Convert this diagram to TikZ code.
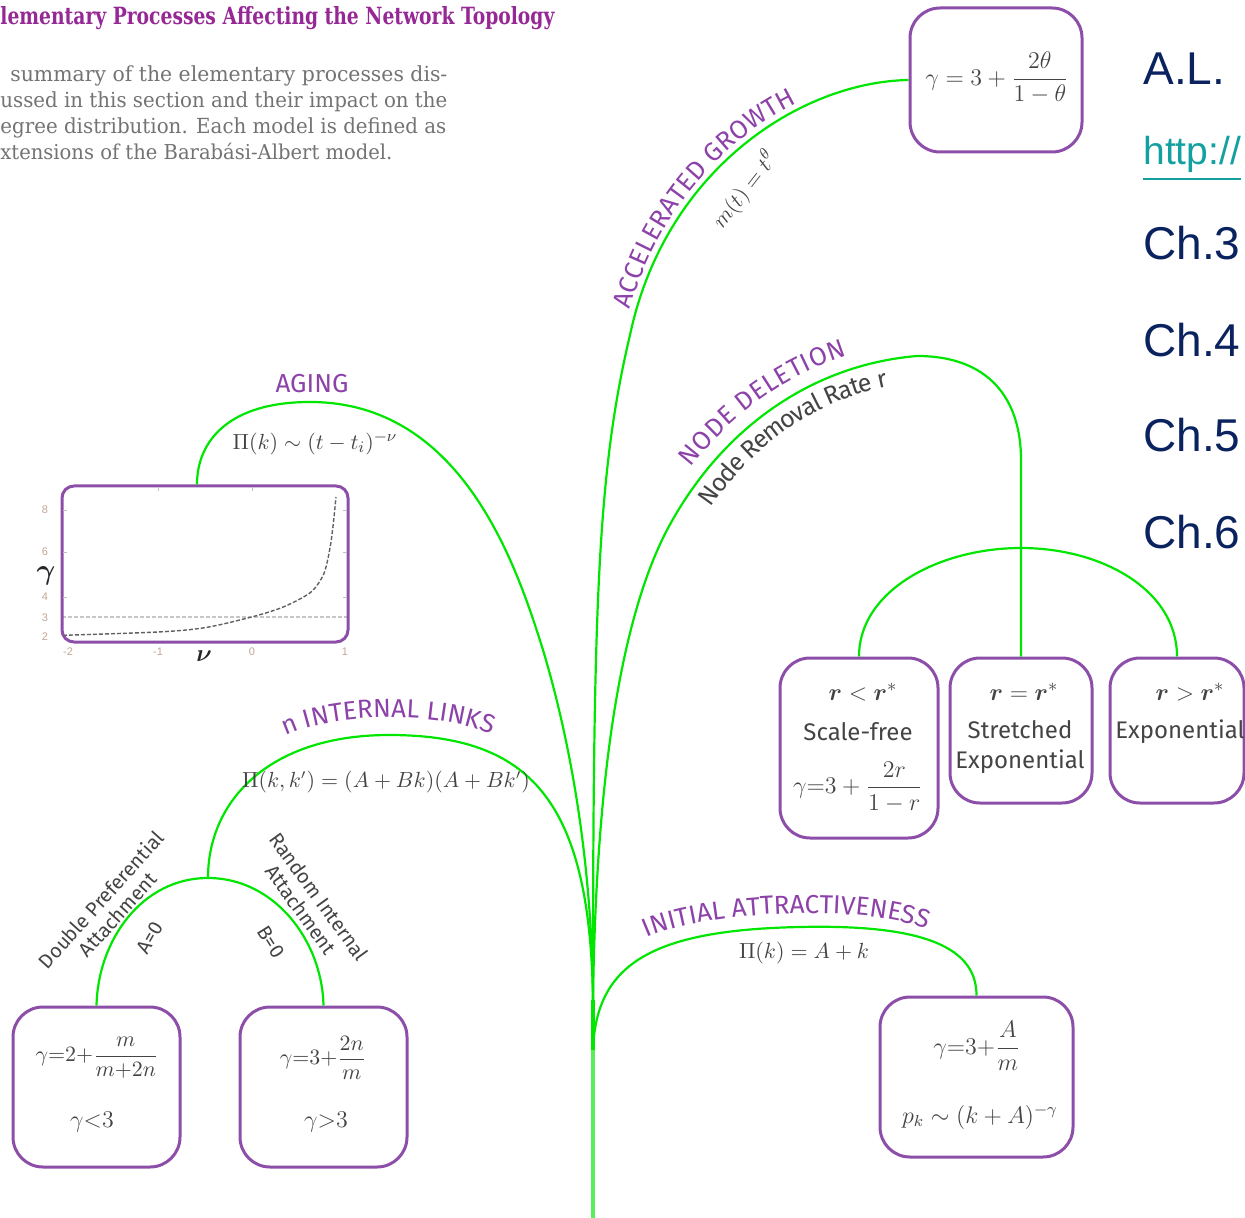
\documentclass[tikz,border=0pt]{standalone}
\usepackage{fontspec}
\usepackage{amsmath}
\usepackage{graphicx}
\usetikzlibrary{decorations.text,calc}
\newfontfamily\firafam{Fira Sans}
\newfontfamily\serifam{DejaVu Serif}
\newfontfamily\arialfam{Liberation Sans}
\definecolor{grn}{RGB}{0,230,0}
\definecolor{grnlight}{RGB}{90,238,90}
\definecolor{boxpurple}{RGB}{140,78,168}
\definecolor{lblpurple}{RGB}{140,66,168}
\definecolor{titlepurple}{RGB}{150,40,150}
\definecolor{descgray}{RGB}{115,115,115}
\definecolor{fgray}{RGB}{68,68,68}
\definecolor{navy}{RGB}{10,35,95}
\definecolor{linkteal}{RGB}{20,160,160}
\definecolor{tickcol}{RGB}{195,165,150}
\newcommand\capfont{\firafam\fontsize{13}{13}\selectfont}
\newcommand\subfont{\firafam\fontsize{12.5}{12.5}\selectfont}
\tikzset{
  branch/.style={draw=grn, line width=1.1pt},
  trunkline/.style={draw=grn, line width=2pt},
  procbox/.style={draw=boxpurple, line width=1.5pt, rounded corners=15pt, inner sep=0pt},
  formula/.style={text=fgray, inner sep=0pt, font=\fontsize{12}{14}\selectfont},
  sublabel/.style={text=fgray, inner sep=0pt, align=center, font=\firafam\fontsize{10}{11}\selectfont},
  boxtext/.style={text=fgray, inner sep=0pt, align=center, font=\firafam\fontsize{12}{15}\selectfont},
  caplabel/.style={text=lblpurple, inner sep=0pt, font=\capfont},
  ticklbl/.style={text=tickcol, inner sep=0pt, font=\arialfam\fontsize{5.5}{6}\selectfont},
  desc/.style={text=descgray, anchor=base west, inner sep=0pt},
  rightlbl/.style={text=navy, anchor=base west, inner sep=0pt, font=\arialfam\fontsize{23}{25}\selectfont},
  curvedlbl/.style={decorate, decoration={text along path, text color=lblpurple, #1}},
}
\begin{document}
\begin{tikzpicture}[x=0.5pt,y=-0.5pt]
\useasboundingbox (0,0) rectangle (1245,1218);

% ---------- header text ----------
\node[anchor=base west, inner sep=0pt, text=titlepurple] (title) at (0,25)
  {\resizebox{277pt}{9pt}{\serifam\bfseries lementary Processes Affecting the Network Topology}};
\node[desc] (d1) at (10,82) {\resizebox{218.5pt}{7.9pt}{\serifam summary of the elementary processes dis-}};
\node[desc] (d2) at (0,108) {\resizebox{223.5pt}{7.9pt}{\serifam ussed in this section and their impact on the}};
\node[desc] (d3) at (0,134) {\resizebox{223pt}{7.9pt}{\serifam egree distribution. Each model is defined as}};
\node[desc] (d4) at (0,160) {\resizebox{196pt}{8.2pt}{\serifam xtensions of the Barabási-Albert model.}};

% ---------- right side text ----------
\node[rightlbl] (al) at (1143,85) {A.L.};
\node[rightlbl, text=linkteal, font=\arialfam\fontsize{19.5}{21}\selectfont] (url) at (1143,165) {\underline{http://}};
\node[rightlbl] (ch3) at (1143,260) {Ch.3};
\node[rightlbl] (ch4) at (1143,357) {Ch.4};
\node[rightlbl] (ch5) at (1143,452) {Ch.5};
\node[rightlbl] (ch6) at (1143,548) {Ch.6};

% ---------- coordinates ----------
\coordinate (base) at (593,1218);
\coordinate (iaroot) at (593,1050);
\coordinate (root) at (593,1000);
\coordinate (ilsplit) at (208,878);
\coordinate (ndturn) at (1021,460);
\coordinate (ndsplit) at (1021,548);

% ---------- boxes ----------
\node[procbox, minimum width=86pt, minimum height=72pt] (bTheta) at (996,80) {};
\node[procbox, minimum width=79pt, minimum height=90pt] (bRless) at (859,748) {};
\node[procbox, minimum width=71pt, minimum height=72.5pt] (bReq) at (1021,730.5) {};
\node[procbox, minimum width=67pt, minimum height=72.5pt] (bRgt) at (1177,730.5) {};
\node[procbox, minimum width=96.5pt, minimum height=80pt] (bInit) at (976.5,1077) {};
\node[procbox, minimum width=83.5pt, minimum height=80pt] (bDPA) at (96.5,1087) {};
\node[procbox, minimum width=83.5pt, minimum height=80pt] (bRIA) at (323.5,1087) {};

% ---------- aging plot ----------
\draw[gray!45, dash pattern=on 2pt off 1pt, line width=0.6pt] (62,617) -- (348,617);
\draw[gray!75!black, dash pattern=on 2pt off 1pt, line width=0.7pt] plot[smooth] coordinates
  {(63,635.3) (159.7,631.9) (205.9,627.5) (252,616.9) (279.7,608.4) (298.2,599.9) (312.9,590.4) (324,573.4) (330,548) (333.2,524.6) (336,497)};
\node[procbox, rounded corners=6pt, minimum width=143pt, minimum height=78pt] (plot) at (205,564) {};
\foreach \yy in {510,552,597} {\draw[gray!50, line width=0.4pt] (63,\yy) -- (67,\yy); \draw[gray!50, line width=0.4pt] (347,\yy) -- (343,\yy);}
\foreach \xx in {158,252} {\draw[gray!50, line width=0.4pt] (\xx,487) -- (\xx,491);}
\node[ticklbl] (t8) at (45,510) {8};
\node[ticklbl] (t6) at (45,552) {6};
\node[ticklbl] (t4) at (45,597) {4};
\node[ticklbl] (t3) at (45,618) {3};
\node[ticklbl] (t2) at (45,637) {2};
\node[ticklbl] (tm2) at (68,652) {-2};
\node[ticklbl] (tm1) at (158,652) {-1};
\node[ticklbl] (t0) at (252,652) {0};
\node[ticklbl] (t1) at (345,652) {1};
\node[inner sep=0pt, text=black!85, font=\fontsize{14}{15}\selectfont] (gamlbl) at (46,576) {$\boldsymbol{\gamma}$};
\node[inner sep=0pt, text=black!85, font=\fontsize{13}{14}\selectfont] (nulbl) at (204,656) {$\boldsymbol{\nu}$};

% ---------- trunk and branches ----------
\draw[trunkline, draw=grnlight] (base) -- (iaroot);
\draw[trunkline] (iaroot) -- (root);
% initial attractiveness
\draw[branch] (iaroot) .. controls (596,965) and (650,930) .. (800,927) .. controls (930,924) and (976.5,950) .. (bInit.north);
% accelerated growth
\draw[branch] (root) .. controls (593,600) and (598,470) .. (630,335) .. controls (665,170) and (800,82) .. (bTheta.west);
% node deletion
\draw[branch] (root) .. controls (596,780) and (620,620) .. (667,530) .. controls (720,430) and (810,365) .. (917,356) .. controls (990,356) and (1021,400) .. (ndturn) -- (bReq.north);
\draw[branch] (bRless.north) .. controls (859,590) and (940,548) .. (ndsplit) .. controls (1102,548) and (1177,590) .. (bRgt.north);
% aging
\draw[branch] (root) .. controls (592,860) and (570,740) .. (543,650) .. controls (515,560) and (460,402) .. (310,402) .. controls (230,402) and (197,440) .. ($(plot.north)+(-8,0)$);
% internal links
\draw[branch] (root) .. controls (590,800) and (530,735) .. (389,735) .. controls (270,735) and (208,800) .. (ilsplit);
\draw[branch] (bDPA.north) .. controls (98,940) and (142,878) .. (ilsplit) .. controls (274,878) and (322,940) .. (bRIA.north);

% ---------- curved labels ----------
\path[curvedlbl={text={|\capfont|ACCELERATED GROWTH}, text align={left indent=12pt}, raise=3pt}]
  (630,335) .. controls (665,170) and (800,82) .. (910,80);
\path[curvedlbl={text={|\capfont|NODE DELETION}, text align={left indent=32pt}, raise=7pt}]
  (667,530) .. controls (720,430) and (810,365) .. (917,356);
\path[curvedlbl={text={|\subfont|Node Removal Rate r}, text color=fgray, text align={left indent=22pt}, raise=-13pt}]
  (667,530) .. controls (720,430) and (810,365) .. (917,356);
\path[curvedlbl={text={|\capfont|INITIAL ATTRACTIVENESS}, text align=center}]
  (645,938) .. controls (700,912) and (860,902) .. (928,930);
\path[curvedlbl={text={|\capfont|n INTERNAL LINKS}, text align=center}]
  (281,738) .. controls (330,712) and (440,710) .. (496,736);
\node[caplabel] (aginglbl) at (312,384) {AGING};

% ---------- formulas on branches ----------
\node[formula, font=\fontsize{11}{13}\selectfont] (fAging) at (315,443) {$\Pi(k)\sim(t-t_i)^{-\nu}$};
\node[formula, font=\fontsize{10.5}{13}\selectfont] (fInt) at (386,782) {$\Pi(k,k')=(A+Bk)(A+Bk')$};
\node[formula, font=\fontsize{11.3}{13}\selectfont] (fInit) at (804,953) {$\Pi(k)=A+k$};
\node[formula, rotate=52, font=\fontsize{11}{12}\selectfont] (fAcc) at (745,190) {$m(t)=t^{\theta}$};

% ---------- sub labels on the split ----------
\node[sublabel, rotate=48] (dpa) at (109,907) {Double Preferential\\Attachment};
\node[sublabel, rotate=-54] (ria) at (310,903) {Random Internal\\Attachment};
\node[sublabel, rotate=60] (a0) at (150,938) {A=0};
\node[sublabel, rotate=-58] (b0) at (271,942) {B=0};

% ---------- box contents ----------
\node[formula, font=\fontsize{13}{15}\selectfont] (fTheta) at (997,78) {$\gamma=3+\dfrac{2\theta}{1-\theta}$};
\node[formula, font=\fontsize{12.5}{14}\selectfont] (rl1) at (863,692) {$\boldsymbol{r}<\boldsymbol{r}^{*}$};
\node[boxtext] (rl2) at (858,732) {Scale-free};
\node[formula, font=\fontsize{13}{14}\selectfont] (rl3) at (858,787) {$\gamma{=}3+\dfrac{2r}{1-r}$};
\node[formula, font=\fontsize{12.5}{14}\selectfont] (re1) at (1024,692) {$\boldsymbol{r}=\boldsymbol{r}^{*}$};
\node[boxtext] (re2) at (1020,747) {Stretched\\Exponential};
\node[formula, font=\fontsize{12.5}{14}\selectfont] (rg1) at (1190,692) {$\boldsymbol{r}>\boldsymbol{r}^{*}$};
\node[boxtext] (rg2) at (1180,732) {Exponential};
\node[formula, font=\fontsize{13}{15}\selectfont] (fi1) at (977,1046) {$\gamma{=}3{+}\dfrac{A}{m}$};
\node[formula] (fi2) at (980,1117) {$p_k\sim(k+A)^{-\gamma}$};
\node[formula, font=\fontsize{11}{12}\selectfont] (fd1) at (97,1058) {$\gamma{=}2{+}\dfrac{m}{m{+}2n}$};
\node[formula] (fd2) at (92,1122) {$\gamma{<}3$};
\node[formula, font=\fontsize{11}{12}\selectfont] (fr1) at (323,1058) {$\gamma{=}3{+}\dfrac{2n}{m}$};
\node[formula] (fr2) at (326,1122) {$\gamma{>}3$};

\end{tikzpicture}
\end{document}
